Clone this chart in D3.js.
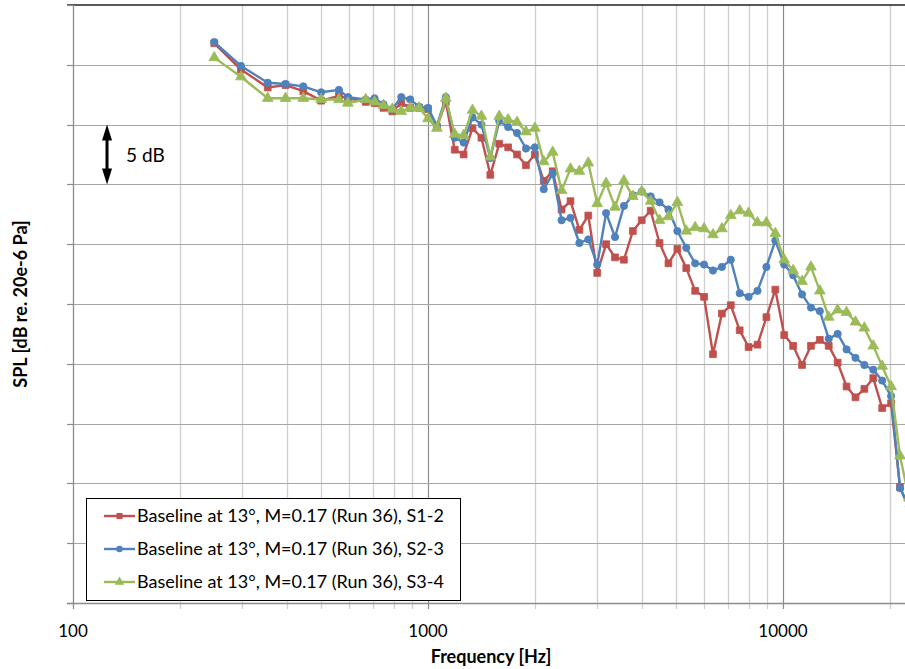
<!DOCTYPE html>
<html><head><meta charset="utf-8">
<script src="https://cdn.jsdelivr.net/npm/d3@7"></script>
<style>body{margin:0;background:#fff}svg{display:block}</style>
</head><body>
<svg id="c" width="905" height="669"></svg>
<script>
// 1/12-octave band centre frequencies [Hz]
const freqs = [250,297.3,353.6,396.9,445.4,500,561.2,594.6,667.4,707.1,749.2,793.7,840.9,890.9,943.9,
1000,1059.5,1122.5,1189.2,1259.9,1334.8,1414.2,1498.3,1587.4,1681.8,1781.8,1887.7,2000,2118.9,2244.9,
2378.4,2519.8,2669.6,2828.4,2996.6,3174.8,3363.6,3563.6,3775.5,4000,4237.9,4489.8,4756.8,5039.7,5339.4,
5656.9,5993.2,6349.6,6727.2,7127.2,7551.1,8000,8475.7,8979.7,9513.6,10079.4,10678.5,11313.7,11986.5,12699.2,
13454.3,14254.4,15102.1,16000,16951.4,17959.4,19027.3,20158.7,21357.2,22627.4];
const splS12 = [76.8,74.6,73.1,73.3,72.8,72.0,72.4,72.2,71.9,71.8,71.4,71.1,71.8,71.4,71.4,
71.3,69.8,71.9,67.9,67.5,69.7,68.9,65.8,68.4,68.1,
67.5,66.6,67.5,65.3,66.1,62.9,63.6,61.2,62.4,57.6,
60.0,58.9,58.7,61.1,62.0,62.8,60.1,58.4,59.6,58.0,
56.1,55.6,50.8,54.2,54.9,52.8,51.4,51.6,53.9,56.2,
52.4,51.5,49.9,51.5,52.0,51.5,50.1,48.1,47.2,47.9,
48.8,46.3,46.7,39.7,37.9];
const splS23 = [76.9,74.9,73.5,73.4,73.2,72.7,72.9,72.3,72.1,72.2,71.7,71.3,72.3,72.1,71.5,
71.4,69.9,72.3,68.9,68.5,70.6,70.0,67.2,70.3,69.8,
69.3,68.0,68.1,64.6,65.9,62.0,62.2,60.1,60.4,58.3,
62.6,60.6,63.2,64.1,64.4,64.0,63.5,62.9,61.1,59.7,
58.4,58.3,57.8,58.1,58.7,55.9,55.6,56.1,58.1,60.3,
58.3,57.4,55.8,54.7,54.4,52.1,52.5,51.2,50.5,49.9,
49.5,48.6,47.3,39.6,38.1];
const splS34 = [75.6,74.0,72.2,72.2,72.2,72.1,72.1,71.8,72.1,71.9,71.6,71.3,71.1,71.4,71.4,
70.5,69.7,72.2,69.2,69.1,71.2,70.7,67.3,70.7,70.4,
70.2,69.4,69.7,66.9,67.7,64.5,66.3,66.1,66.8,63.4,
65.1,63.1,65.3,64.0,64.4,63.6,62.0,62.3,63.5,61.1,
61.4,61.3,60.8,61.3,62.4,62.8,62.6,61.8,61.8,60.9,
58.7,57.8,56.9,58.1,56.1,53.9,54.5,54.3,53.5,53.0,
51.5,49.8,48.1,42.3,38.8];
const seriesNames = ["Baseline at 13°, M=0.17 (Run 36), S1-2","Baseline at 13°, M=0.17 (Run 36), S2-3","Baseline at 13°, M=0.17 (Run 36), S3-4"];
const xTickLabels = [100,1000,10000];
const yGridValues = [30,35,40,45,50,55,60,65,70,75,80];

const colors = ["#C0504D","#4F81BD","#9BBB59"];
const symbols = [d3.symbolSquare, d3.symbolCircle, d3.symbolTriangle];
const symSizes = [46, 42, 50];
const FONT = "Lato, 'Open Sans', sans-serif";

const svg = d3.select("#c");
const L = 73, R = 905, T = 5, B = 603;
const x = d3.scaleLog().domain([100, 22000]).range([L, 73 + 355*Math.log10(220)]);
const y = d3.scaleLinear().domain([30, 80]).range([B, T]);

// grid
const minor = [];
for (let d = 100; d <= 10000; d *= 10) for (let k = 2; k <= 9; k++) if (d*k <= 22000) minor.push(d*k);
minor.push(20000);
const g = svg.append("g");
g.selectAll(".vmin").data(minor).join("line")
  .attr("x1", d => Math.round(x(d))+0.5).attr("x2", d => Math.round(x(d))+0.5)
  .attr("y1", T).attr("y2", B+6).attr("stroke", "#d0d0d0").attr("stroke-width", 1.3);
g.selectAll(".vmaj").data([1000,10000]).join("line")
  .attr("x1", d => Math.round(x(d))+0.5).attr("x2", d => Math.round(x(d))+0.5)
  .attr("y1", T).attr("y2", B+6).attr("stroke", "#8c8c8c").attr("stroke-width", 1.2);
g.selectAll(".h").data(yGridValues.slice(1, -1)).join("line")
  .attr("x1", L-6).attr("x2", R).attr("y1", d => Math.round(y(d))+0.5).attr("y2", d => Math.round(y(d))+0.5)
  .attr("stroke", "#a6a6a6").attr("stroke-width", 1.2);
// top line
g.append("line").attr("x1", L-6).attr("x2", R).attr("y1", y(80)).attr("y2", y(80)).attr("stroke", "#222").attr("stroke-width", 1.3);
// axes
g.append("line").attr("x1", L-6).attr("x2", R).attr("y1", B+0.5).attr("y2", B+0.5).attr("stroke", "#8c8c8c").attr("stroke-width", 1.3);
g.append("line").attr("x1", L+0.5).attr("x2", L+0.5).attr("y1", T).attr("y2", B+6).attr("stroke", "#8c8c8c").attr("stroke-width", 1.3);
// y tick marks
g.selectAll(".yt").data(yGridValues).join("line")
  .attr("x1", L-6).attr("x2", L).attr("y1", d => Math.round(y(d))+0.5).attr("y2", d => Math.round(y(d))+0.5)
  .attr("stroke", "#8c8c8c").attr("stroke-width", 1.2);

// x tick labels
svg.append("g").selectAll("text").data(xTickLabels).join("text")
  .attr("x", d => x(d)).attr("y", 637).attr("text-anchor", "middle")
  .attr("font-family", FONT).attr("font-size", 17).attr("fill", "#000").text(d => d);

// axis titles
svg.append("text").attr("x", 491).attr("y", 663).attr("text-anchor", "middle")
  .attr("font-family", FONT).attr("font-weight", "bold").attr("font-size", 18).text("Frequency [Hz]");
svg.append("text").attr("transform", "translate(27,304) rotate(-90)").attr("text-anchor", "middle")
  .attr("font-family", FONT).attr("font-weight", "bold").attr("font-size", 18).text("SPL [dB re. 20e-6 Pa]");

// clip
svg.append("clipPath").attr("id", "clip").append("rect").attr("x", L).attr("y", 0).attr("width", R-L).attr("height", B+2);

const allSeries = [splS12, splS23, splS34];
const line = d3.line().x((d,i) => x(freqs[i])).y(d => y(d));
const plot = svg.append("g").attr("clip-path", "url(#clip)");
allSeries.forEach((vals, s) => {
  plot.append("path").datum(vals).attr("d", line).attr("fill", "none")
    .attr("stroke", colors[s]).attr("stroke-width", 2.4).attr("stroke-linejoin", "round");
  plot.selectAll(".m"+s).data(vals).join("path")
    .attr("transform", (d,i) => `translate(${x(freqs[i])},${y(d)})`)
    .attr("d", d3.symbol().type(symbols[s]).size(symSizes[s]))
    .attr("fill", colors[s]).attr("stroke", colors[s]).attr("stroke-width", 0.8);
});

// 5 dB arrow
const ax = 107, ay1 = y(70), ay2 = y(65);
const ann = svg.append("g");
ann.append("line").attr("x1", ax).attr("x2", ax).attr("y1", ay1+10).attr("y2", ay2-10).attr("stroke", "#000").attr("stroke-width", 3);
ann.append("path").attr("d", `M${ax},${ay1} L${ax-5},${ay1+16} L${ax+5},${ay1+16} Z`).attr("fill", "#000");
ann.append("path").attr("d", `M${ax},${ay2} L${ax-5},${ay2-16} L${ax+5},${ay2-16} Z`).attr("fill", "#000");
ann.append("text").attr("x", 126).attr("y", (ay1+ay2)/2 + 7).attr("font-family", FONT).attr("font-size", 19).text("5 dB");

// legend
const lg = svg.append("g");
lg.append("rect").attr("x", 86.5).attr("y", 498.5).attr("width", 374).attr("height", 102)
  .attr("fill", "#fff").attr("stroke", "#000").attr("stroke-width", 1);
const rowY = [516, 549, 582];
seriesNames.forEach((n, s) => {
  lg.append("line").attr("x1", 104).attr("x2", 135).attr("y1", rowY[s]).attr("y2", rowY[s])
    .attr("stroke", colors[s]).attr("stroke-width", 2.4);
  lg.append("path").attr("transform", `translate(119.5,${rowY[s]})`)
    .attr("d", d3.symbol().type(symbols[s]).size(symSizes[s]*0.8)).attr("fill", colors[s]);
  lg.append("text").attr("x", 137).attr("y", rowY[s] + 6).attr("font-family", FONT).attr("font-size", 18).text(n);
});
</script>
</body></html>
